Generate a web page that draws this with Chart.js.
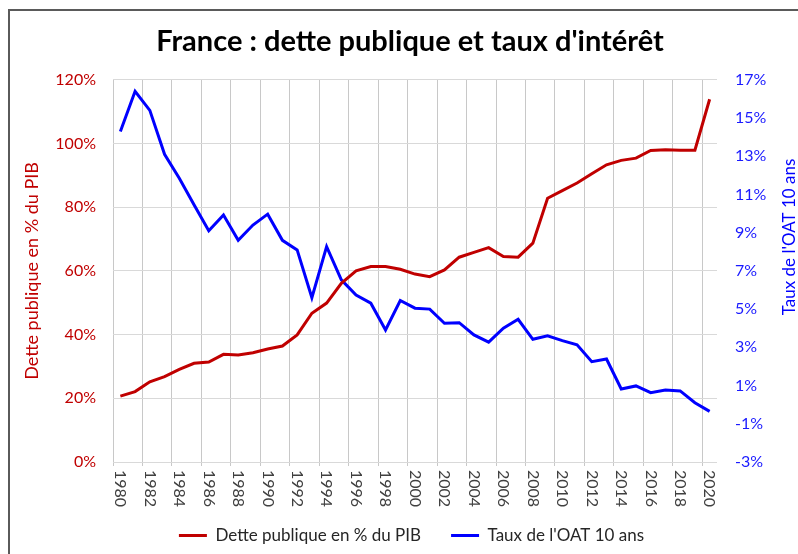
<!DOCTYPE html>
<html>
<head>
<meta charset="utf-8">
<script src="https://cdn.jsdelivr.net/npm/chart.js@4.4.0/dist/chart.umd.min.js"></script>
<style>
  html, body { margin: 0; padding: 0; background: #fff; }
  #wrap { position: relative; width: 798px; height: 554px; overflow: hidden; }
  #chart { display: block; }
  #frame {
    position: absolute; left: 8px; top: 9px; width: 900px; height: 700px;
    border-top: 2px solid #5a5a5a; border-left: 2px solid #5a5a5a;
    pointer-events: none;
  }
</style>
</head>
<body>
<div id="wrap">
  <canvas id="chart" width="798" height="554"></canvas>
  <div id="frame"></div>
</div>
<script>
const years = ['1980', '1981', '1982', '1983', '1984', '1985', '1986', '1987', '1988', '1989',
  '1990', '1991', '1992', '1993', '1994', '1995', '1996', '1997', '1998', '1999',
  '2000', '2001', '2002', '2003', '2004', '2005', '2006', '2007', '2008', '2009',
  '2010', '2011', '2012', '2013', '2014', '2015', '2016', '2017', '2018', '2019', '2020'];

// dette publique, % du PIB (axe gauche)
const detteValues = [20.7, 22.1, 25.2, 26.8, 29.1, 31.0, 31.4, 33.8, 33.6, 34.3,
  35.5, 36.4, 39.9, 46.7, 49.9, 56.1, 60.0, 61.4, 61.4, 60.5,
  59.0, 58.2, 60.3, 64.3, 65.8, 67.3, 64.5, 64.3, 68.7, 82.8,
  85.2, 87.6, 90.5, 93.3, 94.7, 95.4, 97.8, 98.0, 97.9, 97.9, 113.9];

// taux de l'OAT 10 ans, % (axe droit)
const tauxValues = [14.3, 16.4, 15.4, 13.1, 11.85, 10.46, 9.1, 9.93, 8.6, 9.4,
  9.97, 8.6, 8.1, 5.6, 8.27, 6.53, 5.74, 5.31, 3.91, 5.45,
  5.05, 5.0, 4.26, 4.29, 3.65, 3.27, 4.0, 4.47, 3.42, 3.6,
  3.35, 3.13, 2.25, 2.39, 0.82, 0.98, 0.63, 0.77, 0.72, 0.1, -0.35];

const detteTicks = [0, 20, 40, 60, 80, 100, 120];
const tauxTicks = [-3, -1, 1, 3, 5, 7, 9, 11, 13, 15, 17];

const titleText = "France : dette publique et taux d'intérêt";
const detteLabel = 'Dette publique en % du PIB';
const tauxLabel = "Taux de l'OAT 10 ans";

const RED = '#c00000';
const BLUE = '#0000ff';

Chart.defaults.font.family = "Lato, 'Open Sans', sans-serif";

// year labels read top-to-bottom and the right title reads bottom-to-top,
// which the built-in axes can't do, so they are drawn here
const extraText = {
  id: 'extraText',
  afterLayout(chart) {
    chart.titleBlock.left = 22;
    chart.legend.left = 25;
  },
  afterDraw(chart) {
    const ctx = chart.ctx;
    const xScale = chart.scales.x;
    ctx.save();
    ctx.font = '16px Lato';
    ctx.fillStyle = '#404040';
    ctx.textAlign = 'left';
    ctx.textBaseline = 'middle';
    years.forEach((year, i) => {
      if (i % 2 !== 0) return;
      ctx.save();
      ctx.translate(xScale.getPixelForValue(i), chart.chartArea.bottom + 8);
      ctx.rotate(Math.PI / 2);
      ctx.fillText(year, 0, 0);
      ctx.restore();
    });

    ctx.font = '17px Lato';
    ctx.fillStyle = BLUE;
    ctx.textAlign = 'center';
    ctx.translate(790, 237);
    ctx.rotate(-Math.PI / 2);
    ctx.fillText(tauxLabel, 0, 0);
    ctx.restore();
  }
};

const legendPadding = 30;
const legendFont = 17;

new Chart(document.getElementById('chart'), {
  type: 'line',
  data: {
    labels: years,
    datasets: [
      {
        label: detteLabel,
        data: detteValues,
        yAxisID: 'y',
        borderColor: RED,
        backgroundColor: RED,
        borderWidth: 3,
        pointRadius: 0,
        tension: 0
      },
      {
        label: tauxLabel,
        data: tauxValues,
        yAxisID: 'y2',
        borderColor: BLUE,
        backgroundColor: BLUE,
        borderWidth: 3,
        pointRadius: 0,
        tension: 0
      }
    ]
  },
  options: {
    responsive: false,
    animation: false,
    devicePixelRatio: 1,
    layout: { padding: 0 },
    plugins: {
      title: {
        display: true,
        text: titleText,
        color: '#000',
        font: { size: 29, weight: 'bold' },
        padding: { top: 24, bottom: 21 }
      },
      legend: {
        position: 'bottom',
        labels: {
          boxWidth: 28,
          boxHeight: 3,
          padding: legendPadding,
          color: '#262626',
          font: { size: legendFont },
          // thin line swatch, no stroke around it
          generateLabels: chart => Chart.defaults.plugins.legend.labels.generateLabels(chart)
            .map(item => ({ ...item, lineWidth: 0 }))
        }
      },
      tooltip: { enabled: false }
    },
    scales: {
      x: {
        offset: true,
        grid: {
          offset: true,
          color: c => c.index % 2 === 0 ? '#c8c8c8' : 'rgba(0,0,0,0)',
          tickLength: 4
        },
        border: { display: false },
        ticks: { display: false, autoSkip: false },
        afterFit: s => { s.height = 554 - (legendFont + legendPadding + 10) - 462; }
      },
      y: {
        position: 'left',
        min: detteTicks[0],
        max: detteTicks[detteTicks.length - 1],
        afterBuildTicks: s => { s.ticks = detteTicks.map(v => ({ value: v })); },
        ticks: {
          callback: v => v + '%',
          color: RED,
          padding: 17,
          font: { size: 16 }
        },
        grid: { color: '#d9d9d9', drawTicks: false },
        border: { display: false },
        title: {
          display: true,
          text: detteLabel,
          color: RED,
          font: { size: 18 },
          padding: { top: 21, bottom: 0 }
        },
        afterFit: s => { s.width = 113; }
      },
      y2: {
        position: 'right',
        min: tauxTicks[0],
        max: tauxTicks[tauxTicks.length - 1],
        afterBuildTicks: s => { s.ticks = tauxTicks.map(v => ({ value: v })); },
        ticks: {
          callback: v => v + '%',
          color: '#1a1aff',
          padding: 18,
          font: { size: 16 }
        },
        grid: { drawOnChartArea: false, drawTicks: false },
        border: { display: false },
        afterFit: s => { s.width = 81; }
      }
    }
  },
  plugins: [extraText]
});
</script>
</body>
</html>
